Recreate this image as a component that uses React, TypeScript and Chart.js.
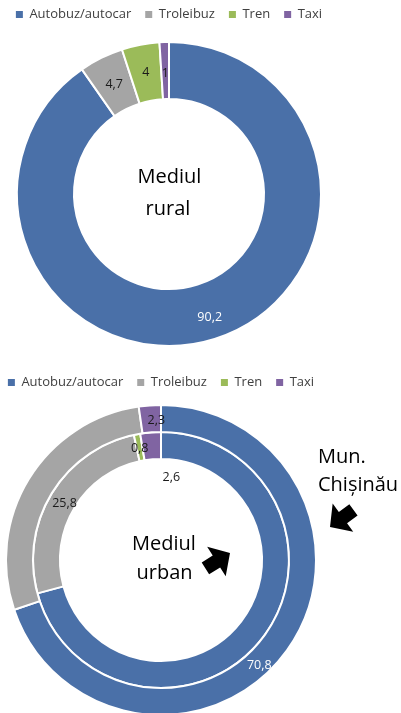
import React, { useEffect, useRef } from "react";
import { Chart, registerables } from "chart.js";

Chart.register(...registerables);

const FONT = "'Open Sans', sans-serif";

const categories = ["Autobuz/autocar", "Troleibuz", "Tren", "Taxi"];
const segmentColors = ["#4a70a8", "#a5a5a5", "#9bbb59", "#8064a2"];
const labelColors = ["#ffffff", "#1a1a1a", "#1a1a1a", "#1a1a1a"];

// Mediul rural
const ruralValues = [90.2, 4.7, 4, 1];
// Mun. Chișinău (outer ring)
const chisinauValues = [69.8, 27.9, 0, 2.3];
// Mediul urban (inner ring)
const urbanValues = [70.8, 25.8, 0.8, 2.6];

// which values are printed, and where (turn in degrees from slice middle, fraction across ring)
const ruralLabelShow = [true, true, true, true];
const ruralLabelTurn = [-0.8, 0, 0, 0];
const ruralLabelRadial = [0.61, 0.49, 0.5, 0.45];

const chisinauLabelShow = [false, false, false, true];
const chisinauLabelTurn = [0, 0, 0, 2.2];
const chisinauLabelRadial = [0.5, 0.5, 0.5, 0.44];

const urbanLabelShow = [true, true, true, true];
const urbanLabelTurn = [9.6, -0.9, 0, 11.8];
const urbanLabelRadial = [1.6, 0.4, 0.46, -0.67];

type LabelSpec = { show: boolean[]; turn: number[]; radial: number[] };
type TextItem = { text: string; dx: number; dy: number; align: CanvasTextAlign };
type ArrowSpec = { dx: number; dy: number; angle: number };

function fmt(v: number) {
  return String(v).replace(".", ",");
}

function sliceLabelPlugin(specs: LabelSpec[]) {
  return {
    id: "sliceLabels",
    afterDatasetsDraw(chart: any) {
      const ctx = chart.ctx;
      ctx.save();
      ctx.font = "12.5px " + FONT;
      ctx.textAlign = "center";
      ctx.textBaseline = "middle";
      chart.data.datasets.forEach((ds: any, di: number) => {
        const spec = specs[di];
        const meta = chart.getDatasetMeta(di);
        meta.data.forEach((arc: any, i: number) => {
          if (!spec || !spec.show[i]) return;
          const a = (arc.startAngle + arc.endAngle) / 2 + (spec.turn[i] * Math.PI) / 180;
          const r = arc.innerRadius + spec.radial[i] * (arc.outerRadius - arc.innerRadius);
          ctx.fillStyle = labelColors[i];
          ctx.fillText(fmt(ds.data[i]), arc.x + r * Math.cos(a), arc.y + r * Math.sin(a));
        });
      });
      ctx.restore();
    },
  };
}

const arrowShape = [
  [0, 0],
  [-16, -17.5],
  [-16, -7],
  [-29, -7],
  [-29, 7],
  [-16, 7],
  [-16, 17.5],
];

function notesPlugin(texts: TextItem[], arrows: ArrowSpec[]) {
  return {
    id: "notes",
    afterDraw(chart: any) {
      const arc = chart.getDatasetMeta(0).data[0];
      if (!arc) return;
      const cx = arc.x;
      const cy = arc.y;
      const ctx = chart.ctx;
      ctx.save();
      ctx.font = "20px " + FONT;
      ctx.fillStyle = "#000";
      ctx.textBaseline = "alphabetic";
      texts.forEach((t) => {
        ctx.textAlign = t.align;
        ctx.fillText(t.text, cx + t.dx, cy + t.dy);
      });
      arrows.forEach((ar) => {
        const ang = (ar.angle * Math.PI) / 180;
        const c = Math.cos(ang);
        const s = Math.sin(ang);
        ctx.beginPath();
        arrowShape.forEach(([px, py], k) => {
          const x = cx + ar.dx + px * c - py * s;
          const y = cy + ar.dy + px * s + py * c;
          if (k === 0) ctx.moveTo(x, y);
          else ctx.lineTo(x, y);
        });
        ctx.closePath();
        ctx.fill();
      });
      ctx.restore();
    },
  };
}

function legendOptions() {
  return {
    position: "top" as const,
    align: "center" as const,
    labels: {
      boxWidth: 7,
      boxHeight: 7,
      padding: 14,
      color: "#404040",
      font: { family: FONT, size: 13 },
      generateLabels: () =>
        categories.map((c, i) => ({
          text: c,
          fillStyle: segmentColors[i],
          strokeStyle: segmentColors[i],
          lineWidth: 0,
          hidden: false,
          index: i,
          fontColor: "#404040",
        })),
    },
  };
}

export default function App() {
  const topRef = useRef<HTMLCanvasElement>(null);
  const botRef = useRef<HTMLCanvasElement>(null);

  useEffect(() => {
    const c1 = new Chart(topRef.current as HTMLCanvasElement, {
      type: "doughnut",
      data: {
        labels: categories,
        datasets: [
          {
            data: ruralValues,
            backgroundColor: segmentColors,
            borderColor: "#ffffff",
            borderWidth: 2,
          },
        ],
      },
      options: {
        responsive: false,
        animation: false,
        devicePixelRatio: 1,
        events: [],
        radius: 152,
        cutout: "62.5%",
        plugins: {
          legend: legendOptions(),
          tooltip: { enabled: false },
        },
      } as any,
      plugins: [
        sliceLabelPlugin([{ show: ruralLabelShow, turn: ruralLabelTurn, radial: ruralLabelRadial }]),
        notesPlugin(
          [
            { text: "Mediul", dx: 0.5, dy: -11, align: "center" },
            { text: "rural", dx: -1, dy: 21, align: "center" },
          ],
          []
        ),
      ],
    });

    const c2 = new Chart(botRef.current as HTMLCanvasElement, {
      type: "doughnut",
      data: {
        labels: categories,
        datasets: [
          {
            data: chisinauValues,
            backgroundColor: segmentColors,
            borderColor: "#ffffff",
            borderWidth: 2,
          },
          {
            data: urbanValues,
            backgroundColor: segmentColors,
            borderColor: "#ffffff",
            borderWidth: 2,
          },
        ],
      },
      options: {
        responsive: false,
        animation: false,
        devicePixelRatio: 1,
        events: [],
        radius: 155,
        cutout: "65.2%",
        plugins: {
          legend: legendOptions(),
          tooltip: { enabled: false },
        },
      } as any,
      plugins: [
        sliceLabelPlugin([
          { show: chisinauLabelShow, turn: chisinauLabelTurn, radial: chisinauLabelRadial },
          { show: urbanLabelShow, turn: urbanLabelTurn, radial: urbanLabelRadial },
        ]),
        notesPlugin(
          [
            { text: "Mediul", dx: 3, dy: -10, align: "center" },
            { text: "urban", dx: 3.5, dy: 19, align: "center" },
            { text: "Mun.", dx: 157, dy: -97, align: "left" },
            { text: "Chișinău", dx: 157, dy: -69, align: "left" },
          ],
          [
            { dx: 69, dy: -7, angle: -32 },
            { dx: 169, dy: -33, angle: 144 },
          ]
        ),
      ],
    });

    return () => {
      c1.destroy();
      c2.destroy();
    };
  }, []);

  return (
    <div
      style={{
        position: "absolute",
        left: 0,
        top: 0,
        width: 401,
        height: 713,
        overflow: "hidden",
        background: "#ffffff",
      }}
    >
      <canvas
        ref={topRef}
        width={338}
        height={363}
        style={{ position: "absolute", left: 0, top: -6, width: 338, height: 363 }}
      />
      <canvas
        ref={botRef}
        width={480}
        height={359}
        style={{ position: "absolute", left: -79, top: 362, width: 480, height: 359 }}
      />
    </div>
  );
}
